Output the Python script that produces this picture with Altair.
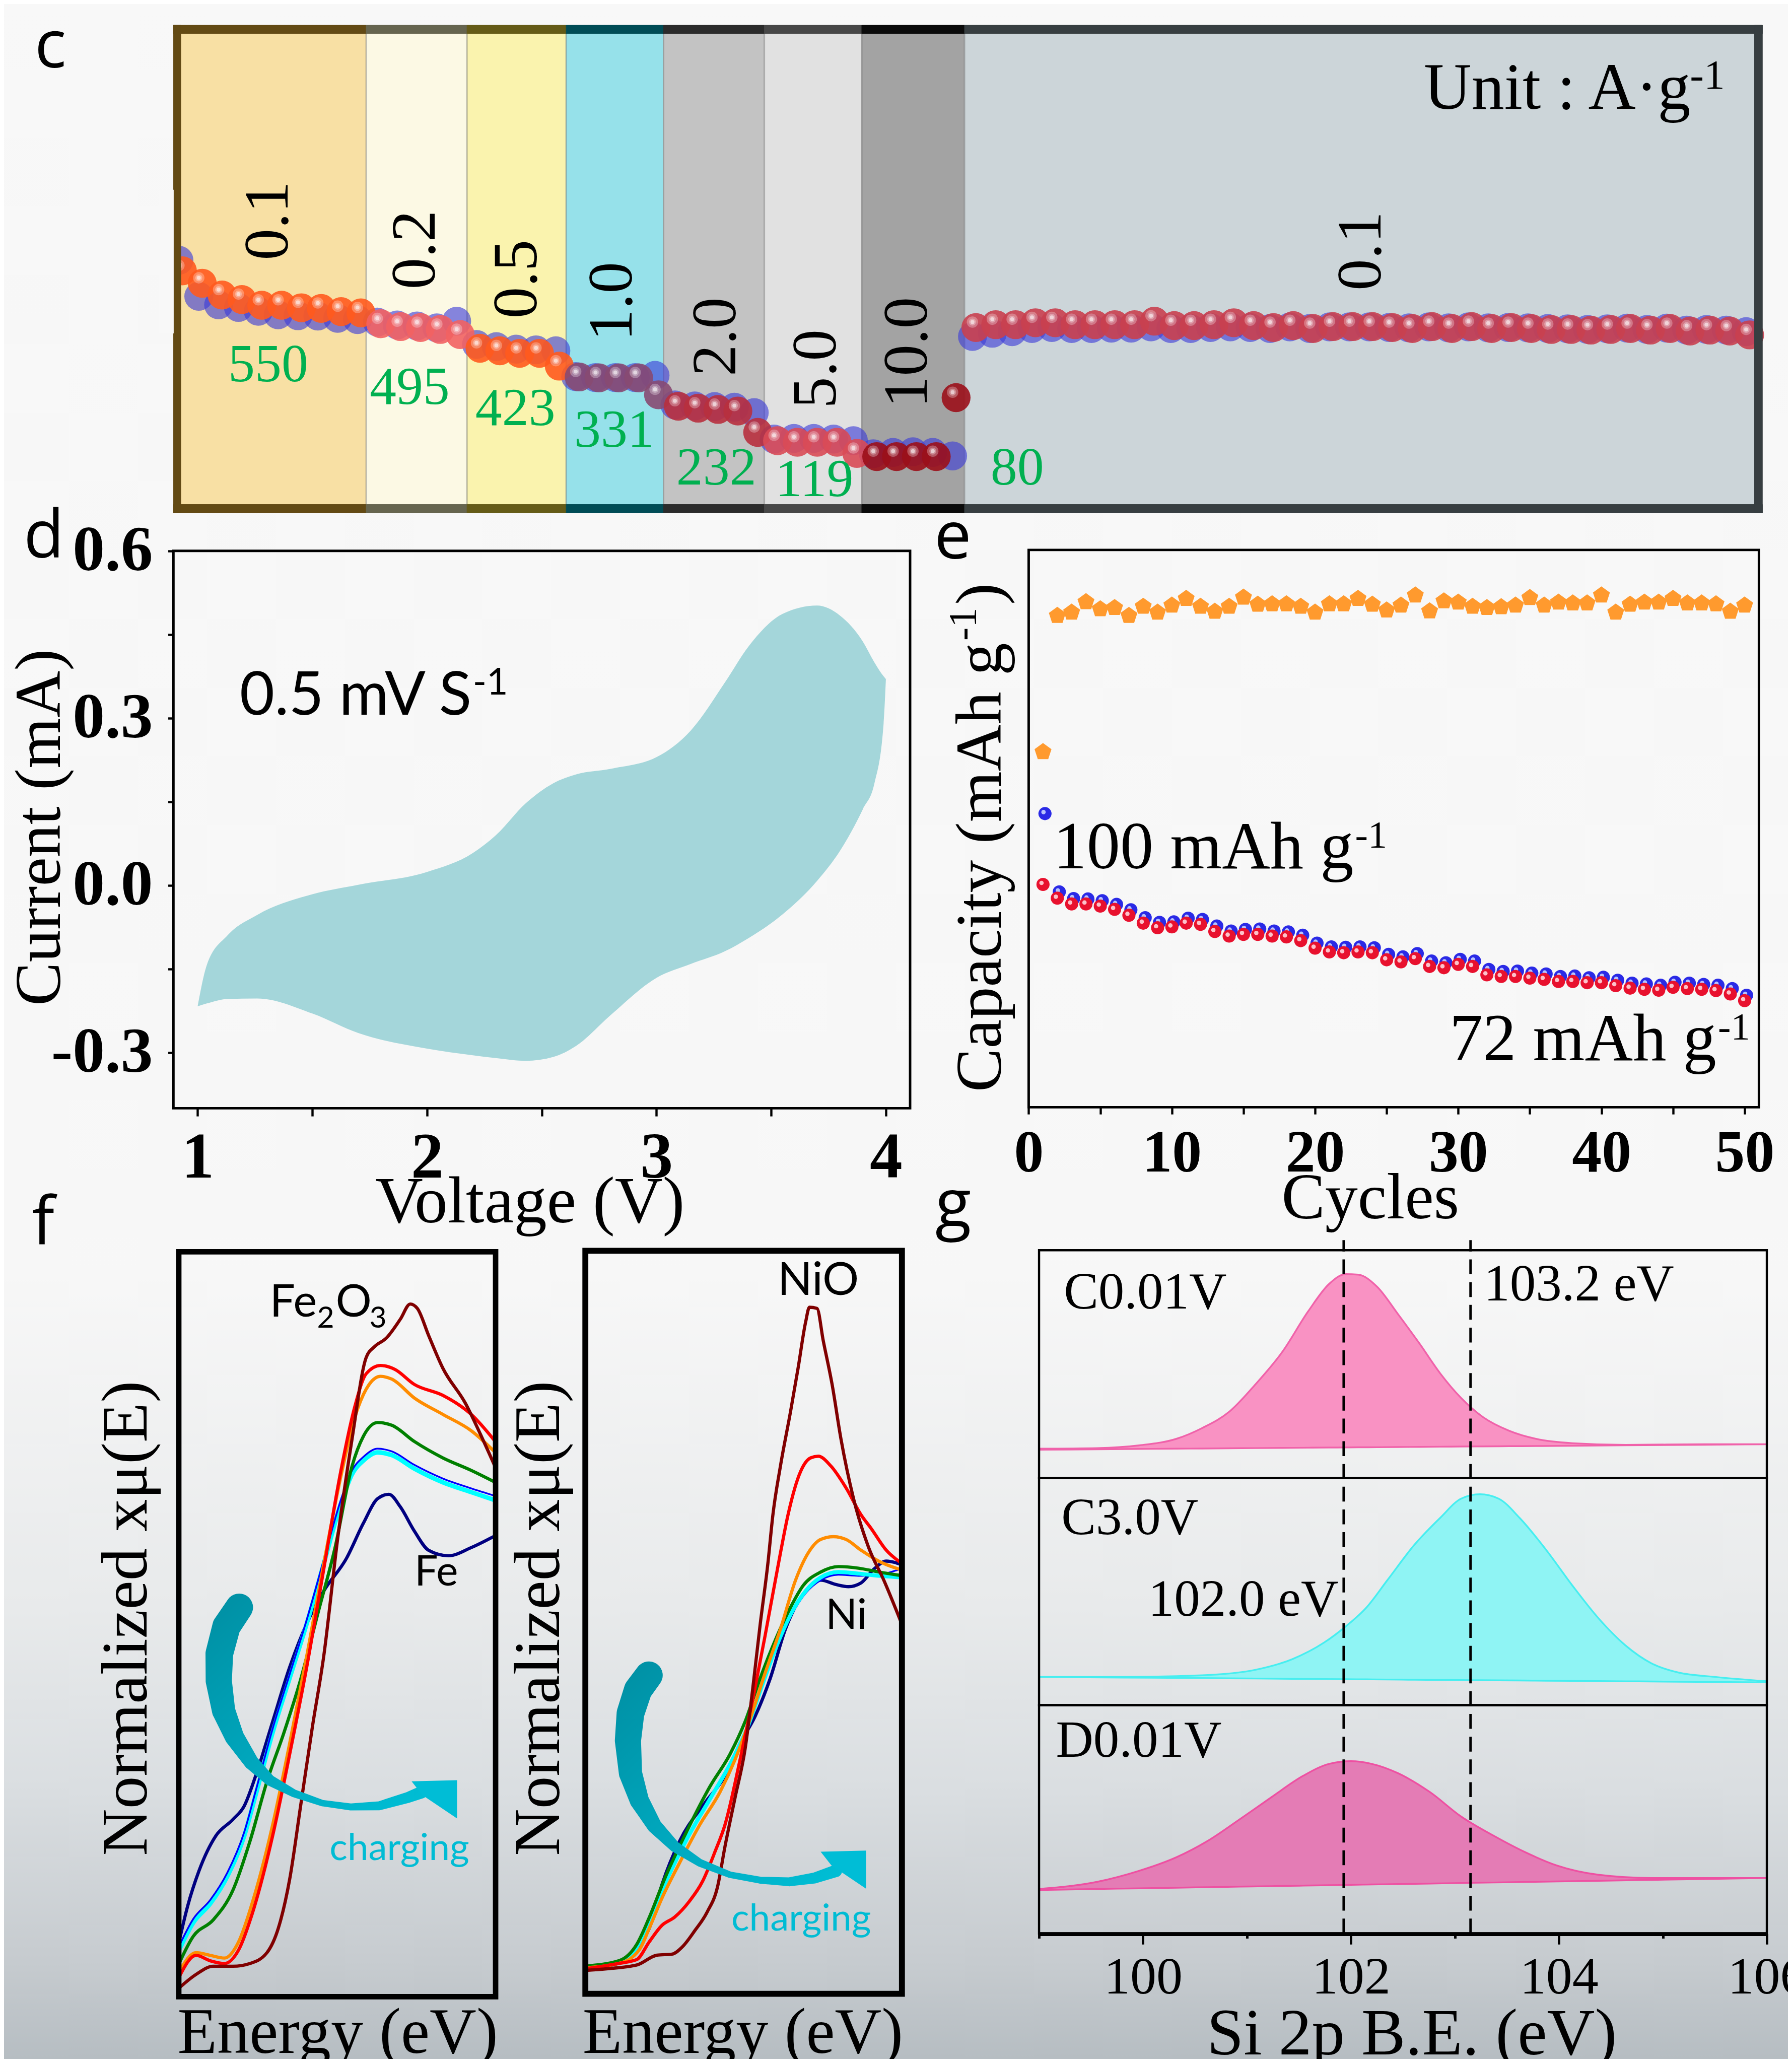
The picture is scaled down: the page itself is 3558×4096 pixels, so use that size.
import altair as alt
import pandas as pd

S = 0.981
M = 8.0
W = 3542
H = 4080


def P(v):
    return v * S - M


def L(v):
    return v * S


SERIF = "Liberation Serif"
SANS = "Open Sans"
LATO = "Lato"
BGC = "#f8f8f8"

# ======================= DATA =======================
# ---- panel c : rate capability (mAh g-1 per cycle) ----
c_cycle = list(range(1, 81))
c_red = [663, 624, 587, 573, 555, 555, 547, 545, 535, 531,
         497, 488, 485, 479, 463,
         420, 412, 404, 404, 364,
         330, 327, 327, 327, 274,
         238, 232, 228, 223, 156,
         130, 125, 125, 125, 90,
         80, 80, 80, 80, 265,
         485, 494, 494, 500, 500, 494, 494, 494, 494, 505,
         491, 491, 494, 500, 491, 485, 491, 482, 488, 488,
         488, 485, 482, 488, 482, 488, 482, 485, 482, 479,
         479, 477, 479, 482, 477, 482, 474, 477, 474, 462]
c_blue = [679, 566, 539, 531, 519, 508, 505, 504, 497, 493,
          485, 476, 473, 467, 488,
          415, 408, 400, 398, 395,
          314, 311, 311, 311, 318,
          225, 222, 220, 218, 201,
          118, 120, 120, 118, 113,
          72, 76, 78, 76, 65,
          440, 450, 455, 465, 468, 465, 465, 466, 466, 470,
          465, 465, 468, 470, 468, 465, 470, 465, 470, 470,
          470, 468, 467, 470, 467, 470, 467, 468, 467, 465,
          464, 462, 464, 466, 462, 466, 460, 462, 460, 455]
c_band_edges = [0.722, 10.44, 15.52, 20.52, 25.43, 30.51, 35.42, 40.60, 80.82]
c_rate_text = ["0.1", "0.2", "0.5", "1.0", "2.0", "5.0", "10.0", "0.1"]
c_cap_text = ["550", "495", "423", "331", "232", "119", "80"]

# ---- panel d : CV loop ----
d_volt = [1.00, 1.04, 1.13, 1.26, 1.50, 1.70, 2.00, 2.20, 2.30, 2.43, 2.55, 2.65,
          2.80, 3.00, 3.15, 3.30, 3.40, 3.55, 3.70, 3.80, 3.90, 3.95, 3.99, 4.00]
d_upper = [-0.217, -0.143, -0.090, -0.053, -0.016, 0.001, 0.024, 0.058, 0.090, 0.147, 0.183, 0.199,
           0.209, 0.230, 0.278, 0.365, 0.428, 0.487, 0.502, 0.484, 0.437, 0.400, 0.375, 0.370]
d_lower = [-0.217, -0.212, -0.204, -0.203, -0.230, -0.265, -0.293, -0.305, -0.310, -0.315, -0.308, -0.288,
           -0.233, -0.166, -0.141, -0.118, -0.095, -0.052, 0.008, 0.062, 0.137, 0.183, 0.290, 0.370]

# ---- panel e : cycling ----
e_cycle = list(range(1, 51))
e_orange = [131.8, 164.5, 165.3, 167.8, 166.1, 166.4, 164.5, 166.7, 165.3, 167.0,
            168.6, 166.7, 165.5, 166.7, 168.9, 167.2, 167.3, 167.3, 166.7, 165.3,
            167.3, 167.3, 168.6, 167.2, 165.8, 167.0, 169.4, 165.6, 168.0, 167.7,
            166.7, 166.4, 166.6, 167.0, 168.8, 167.0, 167.7, 167.5, 167.5, 169.4,
            165.3, 167.2, 167.7, 167.7, 168.6, 167.5, 167.5, 167.3, 165.5, 167.0]
e_red = [100.0, 96.7, 95.3, 95.3, 94.8, 94.0, 92.6, 90.7, 89.6, 89.8,
         90.7, 90.4, 88.7, 87.6, 88.0, 88.0, 87.6, 87.4, 86.5, 84.7,
         83.8, 83.6, 83.8, 83.6, 81.9, 81.4, 82.2, 80.3, 80.0, 80.8,
         80.3, 78.3, 77.9, 77.9, 77.5, 77.2, 76.7, 76.7, 76.4, 76.4,
         75.7, 75.1, 74.8, 74.6, 75.3, 75.0, 74.8, 74.5, 73.7, 72.1]
e_blue = [117.0, 98.2, 96.6, 96.5, 96.1, 95.2, 93.9, 92.0, 90.9, 91.0,
          91.9, 91.6, 90.0, 88.8, 89.2, 89.3, 88.8, 88.6, 87.8, 85.9,
          85.0, 84.9, 85.0, 84.8, 83.2, 82.6, 83.4, 81.6, 81.2, 82.0,
          81.6, 79.6, 79.1, 79.2, 78.7, 78.5, 77.9, 78.0, 77.6, 77.7,
          77.0, 76.3, 76.1, 75.8, 76.5, 76.3, 76.0, 75.8, 75.0, 73.4]

# ---- panel f1 : Fe K-edge (arbitrary units) ----
f1_navy_x = [0, 30, 70, 130, 190, 230, 270, 330, 390, 450, 510, 590, 650, 700, 740, 780, 830, 880, 950, 1030, 1115]
f1_navy_y = [100, 165, 230, 295, 325, 350, 405, 505, 605, 685, 745, 805, 870, 915, 923, 900, 855, 820, 810, 825, 847]
f1_cyan_x = [0, 50, 110, 170, 230, 270, 330, 390, 450, 510, 570, 610, 650, 700, 750, 830, 930, 1030, 1115]
f1_cyan_y = [85, 135, 170, 220, 295, 370, 485, 585, 685, 795, 905, 960, 985, 1000, 995, 970, 945, 927, 912]
f1_blue_y = [92, 142, 177, 227, 302, 377, 492, 592, 692, 802, 912, 967, 992, 1007, 1002, 977, 952, 934, 920]
f1_green_x = [0, 50, 120, 190, 250, 310, 370, 430, 490, 550, 610, 650, 700, 750, 830, 930, 1030, 1115]
f1_green_y = [60, 110, 140, 195, 285, 395, 485, 585, 705, 825, 975, 1030, 1055, 1050, 1020, 990, 967, 945]
f1_orange_x = [0, 60, 110, 160, 210, 260, 330, 390, 450, 510, 570, 620, 670, 710, 750, 830, 930, 1030, 1115]
f1_orange_y = [45, 80, 75, 70, 100, 175, 315, 465, 625, 795, 955, 1065, 1125, 1140, 1135, 1100, 1070, 1040, 1000]
f1_red_x = [0, 60, 110, 160, 210, 260, 330, 390, 450, 510, 570, 620, 660, 710, 760, 830, 930, 1030, 1115]
f1_red_y = [35, 75, 65, 60, 85, 155, 295, 445, 605, 785, 965, 1085, 1145, 1160, 1153, 1125, 1105, 1070, 1020]
f1_maroon_x = [0, 60, 120, 190, 250, 310, 350, 390, 430, 470, 510, 560, 610, 660, 690, 730, 780, 815, 840, 880, 930, 1010, 1070, 1115]
f1_maroon_y = [15, 40, 55, 55, 60, 80, 125, 215, 355, 495, 625, 845, 1025, 1175, 1195, 1210, 1245, 1273, 1265, 1215, 1155, 1090, 1025, 973]
f1_arrow_x = [212, 167, 142, 140, 157, 195, 255, 320, 405, 505, 605, 705, 805, 855]
f1_arrow_y = [715, 680, 630, 580, 525, 477, 430, 397, 373, 355, 348, 350, 365, 375]

# ---- panel f2 : Ni K-edge (arbitrary units) ----
f2_maroon_x = [0, 85, 205, 285, 345, 385, 435, 485, 525, 555, 595, 635, 665, 695, 725, 745, 775, 815, 845, 875, 890, 920, 945, 980, 1015, 1065, 1125, 1185, 1260]
f2_maroon_y = [42, 45, 52, 70, 72, 85, 115, 150, 195, 270, 360, 450, 560, 680, 790, 880, 970, 1070, 1150, 1235, 1262, 1260, 1200, 1120, 1020, 910, 820, 760, 675]
f2_red_x = [0, 135, 205, 255, 305, 355, 415, 465, 515, 555, 615, 665, 715, 775, 805, 855, 895, 925, 975, 1035, 1095, 1135, 1195, 1260]
f2_red_y = [45, 55, 62, 95, 125, 140, 170, 205, 260, 310, 430, 540, 660, 810, 880, 960, 985, 988, 970, 930, 880, 855, 815, 790]
f2_orange_x = [0, 135, 215, 255, 305, 375, 455, 535, 595, 655, 715, 775, 835, 885, 935, 985, 1035, 1095, 1165, 1260]
f2_orange_y = [47, 55, 80, 120, 175, 240, 310, 370, 430, 505, 590, 670, 760, 810, 835, 840, 835, 815, 795, 778]
f2_green_x = [0, 135, 205, 255, 315, 395, 495, 575, 635, 695, 755, 815, 865, 935, 1005, 1085, 1165, 1260]
f2_green_y = [50, 60, 90, 140, 210, 290, 380, 440, 500, 580, 650, 710, 750, 775, 785, 782, 775, 768]
f2_cyan_x = [0, 135, 205, 265, 325, 405, 505, 585, 645, 705, 765, 825, 875, 935, 1005, 1085, 1165, 1260]
f2_cyan_y = [48, 57, 85, 145, 210, 285, 365, 430, 490, 570, 645, 705, 740, 765, 775, 772, 768, 765]
f2_blue_y = [47, 56, 86, 143, 206, 282, 362, 428, 487, 566, 641, 701, 736, 760, 770, 768, 770, 782]
f2_navy_x = [0, 135, 215, 255, 305, 375, 475, 555, 615, 675, 735, 795, 845, 895, 935, 995, 1045, 1095, 1145, 1195, 1260]
f2_navy_y = [47, 55, 90, 120, 200, 280, 350, 400, 460, 510, 580, 670, 720, 750, 760, 752, 748, 755, 780, 795, 788]
f2_arrow_x = [253, 210, 180, 170, 180, 215, 275, 355, 455, 575, 695, 810, 910, 995]
f2_arrow_y = [585, 558, 515, 465, 405, 355, 308, 270, 240, 218, 208, 205, 212, 225]

# ---- panel g : Si 2p XPS ----
g1_ev = [99.01, 99.56, 99.96, 100.32, 100.57, 100.83, 101.08, 101.34, 101.59, 101.79, 101.95, 102.07,
         102.25, 102.45, 102.66, 102.86, 103.06, 103.27, 103.52, 103.78, 104.13, 104.64, 105.40, 106.0]
g1_int = [54, 55, 60, 72, 92, 122, 172, 232, 307, 357, 375, 374,
          352, 302, 247, 192, 147, 112, 87, 72, 64, 61, 62, 62]
g1_base = [52.0, 52.8, 53.4, 53.9, 54.2, 54.6, 55.0, 55.3, 55.7, 56.0, 56.2, 56.4,
           56.6, 56.9, 57.2, 57.5, 57.8, 58.1, 58.5, 58.8, 59.3, 60.1, 61.1, 62.0]
g2_ev = [99.01, 99.81, 100.57, 101.08, 101.44, 101.74, 101.95, 102.15, 102.35, 102.61, 102.86, 103.06,
         103.24, 103.42, 103.62, 103.88, 104.13, 104.38, 104.64, 104.89, 105.15, 105.50, 106.0]
g2_int = [52, 52, 55, 65, 85, 115, 145, 180, 230, 295, 345, 380,
          388, 380, 345, 285, 220, 160, 110, 77, 60, 52, 44]
g2_base = [52.0, 50.8, 49.8, 49.0, 48.5, 48.1, 47.8, 47.5, 47.2, 46.8, 46.5, 46.2,
           45.9, 45.7, 45.4, 45.0, 44.7, 44.3, 43.9, 43.6, 43.2, 42.7, 42.0]
g3_ev = [99.01, 99.56, 99.96, 100.32, 100.62, 100.93, 101.23, 101.54, 101.79, 102.00, 102.20,
         102.45, 102.76, 103.06, 103.37, 103.67, 103.98, 104.38, 104.89, 105.40, 106.0]
g3_int = [82, 95, 115, 140, 170, 210, 250, 290, 312, 317, 312,
          295, 260, 215, 180, 150, 125, 108, 102, 102, 102]
g3_base = [80.0, 81.8, 83.0, 84.1, 85.1, 86.1, 87.0, 88.0, 88.8, 89.4, 90.1,
           90.8, 91.8, 92.8, 93.7, 94.7, 95.7, 96.9, 98.5, 100.1, 102.0]
g_ref_ev = [101.93, 103.15]

# ======================= STYLE / HELPERS =======================
c_band_fill = ["#f8e0a4", "#fcf9e4", "#faf3ae", "#96e1ea", "#c3c3c3", "#e1e1e1", "#a3a3a3", "#ccd5d9"]
c_band_edge = ["#634a14", "#66654f", "#655b17", "#004c56", "#2b2b2b", "#474747", "#0b0b0b", "#373e41"]
c_band_point = ["#ff5a1e", "#f26262", "#ff5a1e", "#874a72", "#b8303e", "#d94b57", "#9b0f1a", "#c9404f"]
PENT = "M0,-1L0.951,-0.309L0.588,0.809L-0.588,0.809L-0.951,-0.309Z"
HEAD = "M-1,-0.79L1,-0.84L1,0.84L-0.53,-0.19Z"
ARROW_W = [L(w) for w in [56, 57, 56, 53, 47, 39, 30, 22, 16, 13, 14, 18, 22, 25]]


def sc(dom, rng):
    return alt.Scale(domain=dom, range=rng, nice=False, zero=False)


def grad(stops, x1=0, y1=0, x2=0, y2=1):
    return alt.LinearGradient(gradient="linear", x1=x1, y1=y1, x2=x2, y2=y2,
                              stops=[alt.GradientStop(offset=o, color=c) for o, c in stops])


def ax(**kw):
    base = dict(grid=False, labelFlush=False, labelOverlap=False, zindex=1,
                tickColor="black", labelColor="black", titleColor="black",
                domainColor="black", titleFontWeight="normal", titleFont=SERIF,
                labelFont=SERIF, labelLimit=3000, titleLimit=5000)
    base.update(kw)
    return alt.Axis(**base)


def rects(df, X, Y, **kw):
    return alt.Chart(df).mark_rect(strokeWidth=1, **kw).encode(
        x=alt.X("x0:Q", scale=X, axis=None), x2="x1:Q",
        y=alt.Y("y0:Q", scale=Y, axis=None), y2="y1:Q",
        color=alt.Color("col:N", scale=None),
        stroke=alt.Stroke("col:N", scale=None))


def frame(x0, x1, y0, y1, X, Y, sw, xaxis=None, yaxis=None):
    df = pd.DataFrame({"x0": [x0], "x1": [x1], "y0": [y0], "y1": [y1]})
    return alt.Chart(df).mark_rect(fillOpacity=0, stroke="black", strokeWidth=sw).encode(
        x=alt.X("x0:Q", scale=X, axis=xaxis), x2="x1:Q",
        y=alt.Y("y0:Q", scale=Y, axis=yaxis), y2="y1:Q")


def texts(xs, ys, ts, X, Y, **kw):
    df = pd.DataFrame({"x": xs, "y": ys, "t": ts})
    return alt.Chart(df).mark_text(**kw).encode(
        x=alt.X("x:Q", scale=X, axis=None), y=alt.Y("y:Q", scale=Y, axis=None), text="t:N")


def curve(xs, ys, X, Y, color, width):
    df = pd.DataFrame({"x": xs, "y": ys, "i": list(range(len(xs)))})
    return alt.Chart(df).mark_line(color=color, strokeWidth=width, interpolate="monotone",
                                   strokeJoin="round", strokeCap="round").encode(
        x=alt.X("x:Q", scale=X, axis=None), y=alt.Y("y:Q", scale=Y, axis=None), order="i:Q")


def arrow(xs, ys, hx, hy, X, Y):
    df = pd.DataFrame({"x": xs, "y": ys, "w": ARROW_W, "i": list(range(len(xs)))})
    body = alt.Chart(df).mark_trail(
        color=grad([(0, "#008ea2"), (0.5, "#00a7bd"), (1, "#00bfd6")], 0, 0, 1, 1)).encode(
        x=alt.X("x:Q", scale=X, axis=None), y=alt.Y("y:Q", scale=Y, axis=None),
        size=alt.Size("w:Q", scale=None), order="i:Q")
    head = alt.Chart(pd.DataFrame({"x": [hx], "y": [hy]})).mark_point(
        shape=HEAD, filled=True, size=L(92) ** 2, color="#00bdd6", opacity=1, strokeWidth=0).encode(
        x=alt.X("x:Q", scale=X, axis=None), y=alt.Y("y:Q", scale=Y, axis=None))
    return [body, head]


# ======================= BACKGROUND & LETTERS =======================
bg = alt.Chart(pd.DataFrame({"k": [0]})).mark_rect(
    color=grad([(0, "#f8f8f8"), (0.62, "#f7f7f7"), (0.78, "#e8eaeb"), (0.868, "#dadee1"),
                (0.954, "#c6cbcf"), (1, "#b6bdc2")])
).encode(x=alt.value(0), x2=alt.value(W), y=alt.value(0), y2=alt.value(H))

figX = sc([0, 3627], [P(0), P(3627)])
figY = sc([0, 4175], [P(0), P(4175)])
letters = texts([70, 48, 1891, 65, 1893], [137, 1128, 1130, 2518, 2482], ["c", "d", "e", "f", "g"],
                figX, figY, font=SANS, fontSize=L(134), align="left", baseline="alphabetic", color="black")

# ======================= PANEL c =======================
OX0, OX1, OY0, OY1 = 0.722, 80.82, -113.6, 1416.7
IX0, IX1, IY0, IY1 = 1.096, 80.42, -87.2, 1390.3
cX = sc([OX0, OX1], [P(351), P(3567)])
cY = sc([OY0, OY1], [P(1038), P(51)])

fill_rows, border_rows = [], []
for i in range(8):
    a, b = c_band_edges[i], c_band_edges[i + 1]
    fill_rows.append(dict(x0=max(a, IX0), x1=min(b, IX1), y0=IY0, y1=IY1, col=c_band_fill[i]))
    border_rows.append(dict(x0=a, x1=b, y0=IY1, y1=OY1, col=c_band_edge[i]))
    border_rows.append(dict(x0=a, x1=b, y0=OY0, y1=IY0, col=c_band_edge[i]))
border_rows.append(dict(x0=OX0, x1=IX0, y0=OY0, y1=OY1, col=c_band_edge[0]))
border_rows.append(dict(x0=IX1, x1=OX1, y0=OY0, y1=OY1, col=c_band_edge[7]))
mask_rows = [dict(x0=0.0, x1=OX0, y0=450, y1=900, col=BGC)]


def band_of(n):
    for i in range(8):
        if n < c_band_edges[i + 1]:
            return i
    return 7


cp = pd.DataFrame({"n": c_cycle, "red": c_red, "blue": c_blue,
                   "col": [c_band_point[band_of(n)] for n in c_cycle]})
cxn = alt.X("n:Q", scale=cX, axis=None)
C_SZ = 3.1416 * L(33) ** 2
sep = alt.Chart(pd.DataFrame({"x": c_band_edges[1:8], "y0": [IY0] * 7, "y1": [IY1] * 7})).mark_rule(
    color="#6e6e6e", opacity=0.45, strokeWidth=L(3)).encode(
    x=alt.X("x:Q", scale=cX, axis=None), y=alt.Y("y0:Q", scale=cY, axis=None), y2="y1:Q")
c_panel = alt.layer(
    rects(pd.DataFrame(fill_rows), cX, cY),
    sep,
    alt.Chart(cp).mark_circle(size=C_SZ, color="#3b3bd6", opacity=0.62).encode(
        x=cxn, y=alt.Y("blue:Q", scale=cY, axis=None)),
    alt.Chart(cp).mark_circle(size=C_SZ, opacity=0.9, xOffset=L(7), yOffset=L(11)).encode(
        x=cxn, y=alt.Y("red:Q", scale=cY, axis=None), color=alt.Color("col:N", scale=None)),
    alt.Chart(cp).mark_circle(size=3.1416 * L(13) ** 2, color="white", opacity=0.28).encode(
        x=cxn, y=alt.Y("red:Q", scale=cY, axis=None)),
    alt.Chart(cp).mark_circle(size=3.1416 * L(8) ** 2, color="white", opacity=0.3).encode(
        x=cxn, y=alt.Y("red:Q", scale=cY, axis=None)),
    alt.Chart(cp).mark_circle(size=3.1416 * L(4.5) ** 2, color="white", opacity=0.55).encode(
        x=cxn, y=alt.Y("red:Q", scale=cY, axis=None)),
    rects(pd.DataFrame(border_rows), cX, cY),
    rects(pd.DataFrame(mask_rows), cX, cY),
    texts([5.50, 12.93, 18.06, 22.84, 28.07, 33.13, 37.73, 60.6],
          [803, 712, 620, 550, 439, 338, 390, 708], c_rate_text, cX, cY,
          font=SERIF, fontSize=L(128), angle=270, align="center", baseline="middle", color="black"),
    texts([5.50, 12.63, 17.96, 22.94, 28.09, 33.03, 43.26],
          [300, 228, 162, 94, -24, -61, -24], c_cap_text, cX, cY,
          font=SERIF, fontSize=L(108), align="center", baseline="alphabetic", color="#00b050"),
    texts([63.76], [1154.7], ["Unit : A\u00b7g"], cX, cY,
          font=SERIF, fontSize=L(133), align="left", baseline="alphabetic", color="black"),
    texts([63.76], [1154.7], ["-1"], cX, cY, font=SERIF, fontSize=L(85), align="left",
          baseline="alphabetic", color="black", dx=528, dy=L(-41)),
)

# ======================= PANEL d =======================
dX = sc([0.8945, 4.1055], [P(351), P(1842)])
dY = sc([-0.4, 0.6], [P(2243), P(1115)])
d_df = pd.DataFrame({"v": d_volt, "up": d_upper, "lo": d_lower})
d_xaxis = ax(orient="bottom", offset=P(2243) - H, values=[1, 1.5, 2, 2.5, 3, 3.5, 4],
             labelExpr="datum.value % 1 == 0 ? format(datum.value, 'd') : ''", domain=False,
             tickSize=L(16), tickWidth=L(4.5), labelFontSize=L(132), labelFontWeight="bold",
             labelPadding=L(20), labelAngle=0, title="Voltage (V)", titleX=P(1072),
             titleY=L(2474 - 2243), titleAlign="center", titleBaseline="alphabetic",
             titleFontSize=L(134), titleAngle=0)
d_yaxis = ax(orient="left", offset=-P(351), values=[-0.3, -0.15, 0, 0.15, 0.3, 0.45, 0.6],
             labelExpr="abs(round(datum.value*100)) % 30 == 0 ? replace(format(datum.value, '.1f'), '\u2212', '-') : ''",
             domain=False, tickSize=L(11), tickWidth=L(4.5), labelFontSize=L(130),
             labelFontWeight="bold", labelPadding=L(31), title="Current (mA)",
             titleX=L(121 - 351), titleY=P(1674), titleAngle=270, titleAlign="center",
             titleBaseline="alphabetic", titleFontSize=L(132))
d_panel = alt.layer(
    alt.Chart(d_df).mark_area(color="#a4d6da", interpolate="monotone").encode(
        x=alt.X("v:Q", scale=dX, axis=None), y=alt.Y("up:Q", scale=dY, axis=None), y2="lo:Q"),
    texts([1.183], [0.3065], ["0.5 mV S"], dX, dY, font=LATO, fontSize=L(122), align="left",
          baseline="alphabetic", color="black"),
    texts([1.183], [0.3065], ["-1"], dX, dY, font=LATO, fontSize=L(75), align="left",
          baseline="alphabetic", color="black", dx=L(472), dy=L(-40)),
)
d_frame = frame(0.8945, 4.1055, -0.4, 0.6, dX, dY, L(5), d_xaxis, d_yaxis)

# ======================= PANEL e =======================
eX = sc([0, 51], [P(2082), P(3560)])
eY = sc([46.5, 180.3], [P(2241), P(1113)])
e_df = pd.DataFrame({"n": e_cycle, "o": e_orange, "r": e_red, "b": e_blue})
exn = alt.X("n:Q", scale=eX, axis=None)
e_xaxis = ax(orient="bottom", offset=P(2241) - H, values=list(range(0, 51, 5)),
             labelExpr="datum.value % 10 == 0 ? datum.label : ''", domain=False,
             tickSize=L(14), tickWidth=L(4.5), labelFontSize=L(120), labelFontWeight="bold",
             labelPadding=L(21), labelAngle=0, title="Cycles", titleX=P(2773),
             titleY=L(2465 - 2241), titleAlign="center", titleBaseline="alphabetic",
             titleFontSize=L(132), titleAngle=0)
E_SZ = 3.1416 * L(15) ** 2
e_panel = alt.layer(
    alt.Chart(e_df).mark_point(shape=PENT, filled=True, size=L(36) ** 2, color="#ff9a2e",
                               opacity=1, strokeWidth=0).encode(
        x=exn, y=alt.Y("o:Q", scale=eY, axis=None)),
    alt.Chart(e_df).mark_circle(size=E_SZ, color="#2a2ae6", opacity=1, xOffset=L(4)).encode(
        x=exn, y=alt.Y("b:Q", scale=eY, axis=None)),
    alt.Chart(e_df).mark_circle(size=3.1416 * L(5) ** 2, color="#c8d4ff", opacity=0.9,
                                xOffset=L(1), yOffset=L(-3)).encode(
        x=exn, y=alt.Y("b:Q", scale=eY, axis=None)),
    alt.Chart(e_df).mark_circle(size=E_SZ, color="#e8112e", opacity=1).encode(
        x=exn, y=alt.Y("r:Q", scale=eY, axis=None)),
    alt.Chart(e_df).mark_circle(size=3.1416 * L(5) ** 2, color="#ffd6dc", opacity=0.9,
                                xOffset=L(-3), yOffset=L(-3)).encode(
        x=exn, y=alt.Y("r:Q", scale=eY, axis=None)),
    texts([1.725], [103.9], ["100 mAh g"], eX, eY, font=SERIF, fontSize=L(135), align="left",
          baseline="alphabetic", color="black"),
    texts([1.725], [103.9], ["-1"], eX, eY, font=SERIF, fontSize=L(78), align="left",
          baseline="alphabetic", color="black", dx=599, dy=L(-41)),
    texts([29.39], [57.8], ["72 mAh g"], eX, eY, font=SERIF, fontSize=L(135), align="left",
          baseline="alphabetic", color="black"),
    texts([29.39], [57.8], ["-1"], eX, eY, font=SERIF, fontSize=L(78), align="left",
          baseline="alphabetic", color="black", dx=533, dy=L(-42)),
    texts([-1.966], [50.18], ["Capacity (mAh g"], eX, eY, font=SERIF, fontSize=L(132),
          angle=270, align="left", baseline="alphabetic", color="black"),
    texts([-1.966], [50.18], ["-1"], eX, eY, font=SERIF, fontSize=L(80), angle=270,
          align="left", baseline="alphabetic", color="black", dx=896, dy=L(-50)),
    texts([-1.966], [50.18], [")"], eX, eY, font=SERIF, fontSize=L(132), angle=270,
          align="left", baseline="alphabetic", color="black", dx=967),
)
e_frame = frame(0, 51, 46.5, 180.3, eX, eY, L(5), e_xaxis, None)

# ======================= PANEL f1 / f2 =======================
f1X = sc([0, 1115], [P(362.4), P(1002.5)])
f1Y = sc([0, 1375], [P(4040), P(2527)])
f2X = sc([0, 1260], [P(1184.2), P(1827.0)])
f2Y = sc([0, 1368], [P(4034.2), P(2529.2)])


def f_axes(xoff, tx, ty, yoff, ytx):
    xa = ax(orient="bottom", offset=xoff, domain=False, ticks=False, labels=False,
            title="Energy (eV)", titleX=tx, titleY=ty, titleAlign="center",
            titleBaseline="alphabetic", titleFontSize=L(131), titleAngle=0)
    ya = ax(orient="left", offset=yoff, domain=False, ticks=False, labels=False,
            title="Normalized x\u03bc(E)", titleX=ytx, titleY=P(3275), titleAngle=270,
            titleAlign="center", titleBaseline="alphabetic", titleFontSize=L(132))
    return xa, ya


LW = L(6.5)
f1xa, f1ya = f_axes(P(4040) - H, P(683), L(4154 - 4040), -P(362.4), L(296 - 362.4))
f1_panel = alt.layer(
    curve(f1_navy_x, f1_navy_y, f1X, f1Y, "#000080", LW),
    curve(f1_cyan_x, f1_cyan_y, f1X, f1Y, "#00ffff", L(9)),
    curve(f1_cyan_x, f1_blue_y, f1X, f1Y, "#0000ff", L(3.5)),
    curve(f1_green_x, f1_green_y, f1X, f1Y, "#008000", LW),
    curve(f1_orange_x, f1_orange_y, f1X, f1Y, "#ff8c00", LW),
    curve(f1_red_x, f1_red_y, f1X, f1Y, "#ff0000", LW),
    curve(f1_maroon_x, f1_maroon_y, f1X, f1Y, "#800000", LW),
    *arrow(f1_arrow_x, f1_arrow_y, 900, 362, f1X, f1Y),
    texts([319.8], [1250], ["Fe"], f1X, f1Y, font=LATO, fontSize=L(91), align="left",
          baseline="alphabetic", color="black"),
    texts([319.8], [1250], ["2"], f1X, f1Y, font=LATO, fontSize=L(60), align="left",
          baseline="alphabetic", color="black", dx=94, dy=L(22)),
    texts([319.8], [1250], ["O"], f1X, f1Y, font=LATO, fontSize=L(91), align="left",
          baseline="alphabetic", color="black", dx=131),
    texts([319.8], [1250], ["3"], f1X, f1Y, font=LATO, fontSize=L(60), align="left",
          baseline="alphabetic", color="black", dx=198, dy=L(22)),
    texts([830], [755], ["Fe"], f1X, f1Y, font=LATO, fontSize=L(84), align="left",
          baseline="alphabetic", color="black"),
    texts([530.6], [250], ["charging"], f1X, f1Y, font=LATO, fontSize=L(76), align="left",
          baseline="alphabetic", color="#00bcd4"),
)
f1_frame = frame(-1, 1116, -1, 1369, f1X, f1Y, L(11), f1xa, f1ya)

f2xa, f2ya = f_axes(P(4034.2) - H, P(1503), L(4154 - 4034.2), -P(1184.2), L(1131 - 1184.2))
f2_panel = alt.layer(
    curve(f2_navy_x, f2_navy_y, f2X, f2Y, "#000080", LW),
    curve(f2_cyan_x, f2_blue_y, f2X, f2Y, "#0000ff", L(3.5)),
    curve(f2_cyan_x, f2_cyan_y, f2X, f2Y, "#00ffff", L(8)),
    curve(f2_green_x, f2_green_y, f2X, f2Y, "#008000", LW),
    curve(f2_orange_x, f2_orange_y, f2X, f2Y, "#ff8c00", LW),
    curve(f2_red_x, f2_red_y, f2X, f2Y, "#ff0000", LW),
    curve(f2_maroon_x, f2_maroon_y, f2X, f2Y, "#800000", LW),
    *arrow(f2_arrow_x, f2_arrow_y, 1024.7, 227.4, f2X, f2Y),
    texts([764], [1285], ["NiO"], f2X, f2Y, font=LATO, fontSize=L(92), align="left",
          baseline="alphabetic", color="black"),
    texts([954], [670], ["Ni"], f2X, f2Y, font=LATO, fontSize=L(84), align="left",
          baseline="alphabetic", color="black"),
    texts([580], [115], ["charging"], f2X, f2Y, font=LATO, fontSize=L(76), align="left",
          baseline="alphabetic", color="#00bcd4"),
)
f2_frame = frame(1, 1257, -1, 1366, f2X, f2Y, L(12), f2xa, f2ya)

# ======================= PANEL g =======================
gX = sc([99, 106], [P(2103), P(3576)])
g1Y = sc([0, 419], [P(2991.3), P(2530.3)])
g2Y = sc([0, 418], [P(3451.1), P(2991.3)])
g3Y = sc([0, 420], [P(3913.1), P(3451.1)])
gRY = sc([0, 1], [P(3913), P(2510)])


def peak(ev, iv, base, Y, fill, edge):
    df = pd.DataFrame({"x": ev, "y": iv, "b": base})
    return alt.Chart(df).mark_area(color=fill, stroke=edge, strokeWidth=L(3.5),
                                   interpolate="monotone", strokeJoin="round").encode(
        x=alt.X("x:Q", scale=gX, axis=None), y=alt.Y("y:Q", scale=Y, axis=None), y2="b:Q")


GT = dict(font=SERIF, fontSize=L(105), align="left", baseline="alphabetic", color="black")
g_xaxis = ax(orient="bottom", offset=P(3914) - H, values=[100, 102, 104, 106],
             tickSize=L(21), tickWidth=L(5), domain=True, domainWidth=L(8),
             labelFontSize=L(106), labelPadding=L(16), labelAngle=0,
             title="Si 2p B.E. (eV)", titleX=P(2857), titleY=L(4158 - 3914),
             titleAlign="center", titleBaseline="alphabetic", titleFontSize=L(134), titleAngle=0)
g1_panel = alt.layer(
    peak(g1_ev, g1_int, g1_base, g1Y, "#f992c3", "#f062aa"),
    texts([99.238, 103.278], [312, 326.6], ["C0.01V", "103.2 eV"], gX, g1Y, **GT),
    frame(99, 106, 0, 419, gX, g1Y, L(4.5)),
)
g2_panel = alt.layer(
    peak(g2_ev, g2_int, g2_base, g2Y, "#8ff4f4", "#46eef0"),
    texts([99.214, 100.05], [314.6, 164.6], ["C3.0V", "102.0 eV"], gX, g2Y, **GT),
    frame(99, 106, 0, 418, gX, g2Y, L(4.5)),
)
g3_panel = alt.layer(
    peak(g3_ev, g3_int, g3_base, g3Y, "#e47cb5", "#ee50a2"),
    texts([99.162], [324.6], ["D0.01V"], gX, g3Y, **GT),
)
g3_frame = frame(99, 106, 0, 420, gX, g3Y, L(4.5), g_xaxis, None)
g_rules = alt.Chart(pd.DataFrame({"x": g_ref_ev, "y0": [0, 0], "y1": [1, 1]})).mark_rule(
    color="black", strokeWidth=L(5), strokeDash=[L(30), L(16)]).encode(
    x=alt.X("x:Q", scale=gX, axis=ax(orient="bottom", offset=P(3914) - H, values=[99, 101, 103, 105],
                                     labels=False, domain=False, tickSize=L(9), tickWidth=L(5),
                                     title=None)),
    y=alt.Y("y0:Q", scale=gRY, axis=None), y2="y1:Q")

# ======================= ASSEMBLE =======================
chart = alt.layer(
    bg, letters, c_panel, d_panel, e_panel, f1_panel, f2_panel,
    g1_panel, g2_panel, g3_panel, g_rules,
    d_frame, e_frame, f1_frame, f2_frame, g3_frame
).resolve_scale(
    x="independent", y="independent"
).properties(
    width=W, height=H, padding=0, background=BGC,
    autosize=alt.AutoSizeParams(type="none"),
).configure_view(stroke=None)

chart.save("out.html", embed_options={"renderer": "svg", "actions": False})
